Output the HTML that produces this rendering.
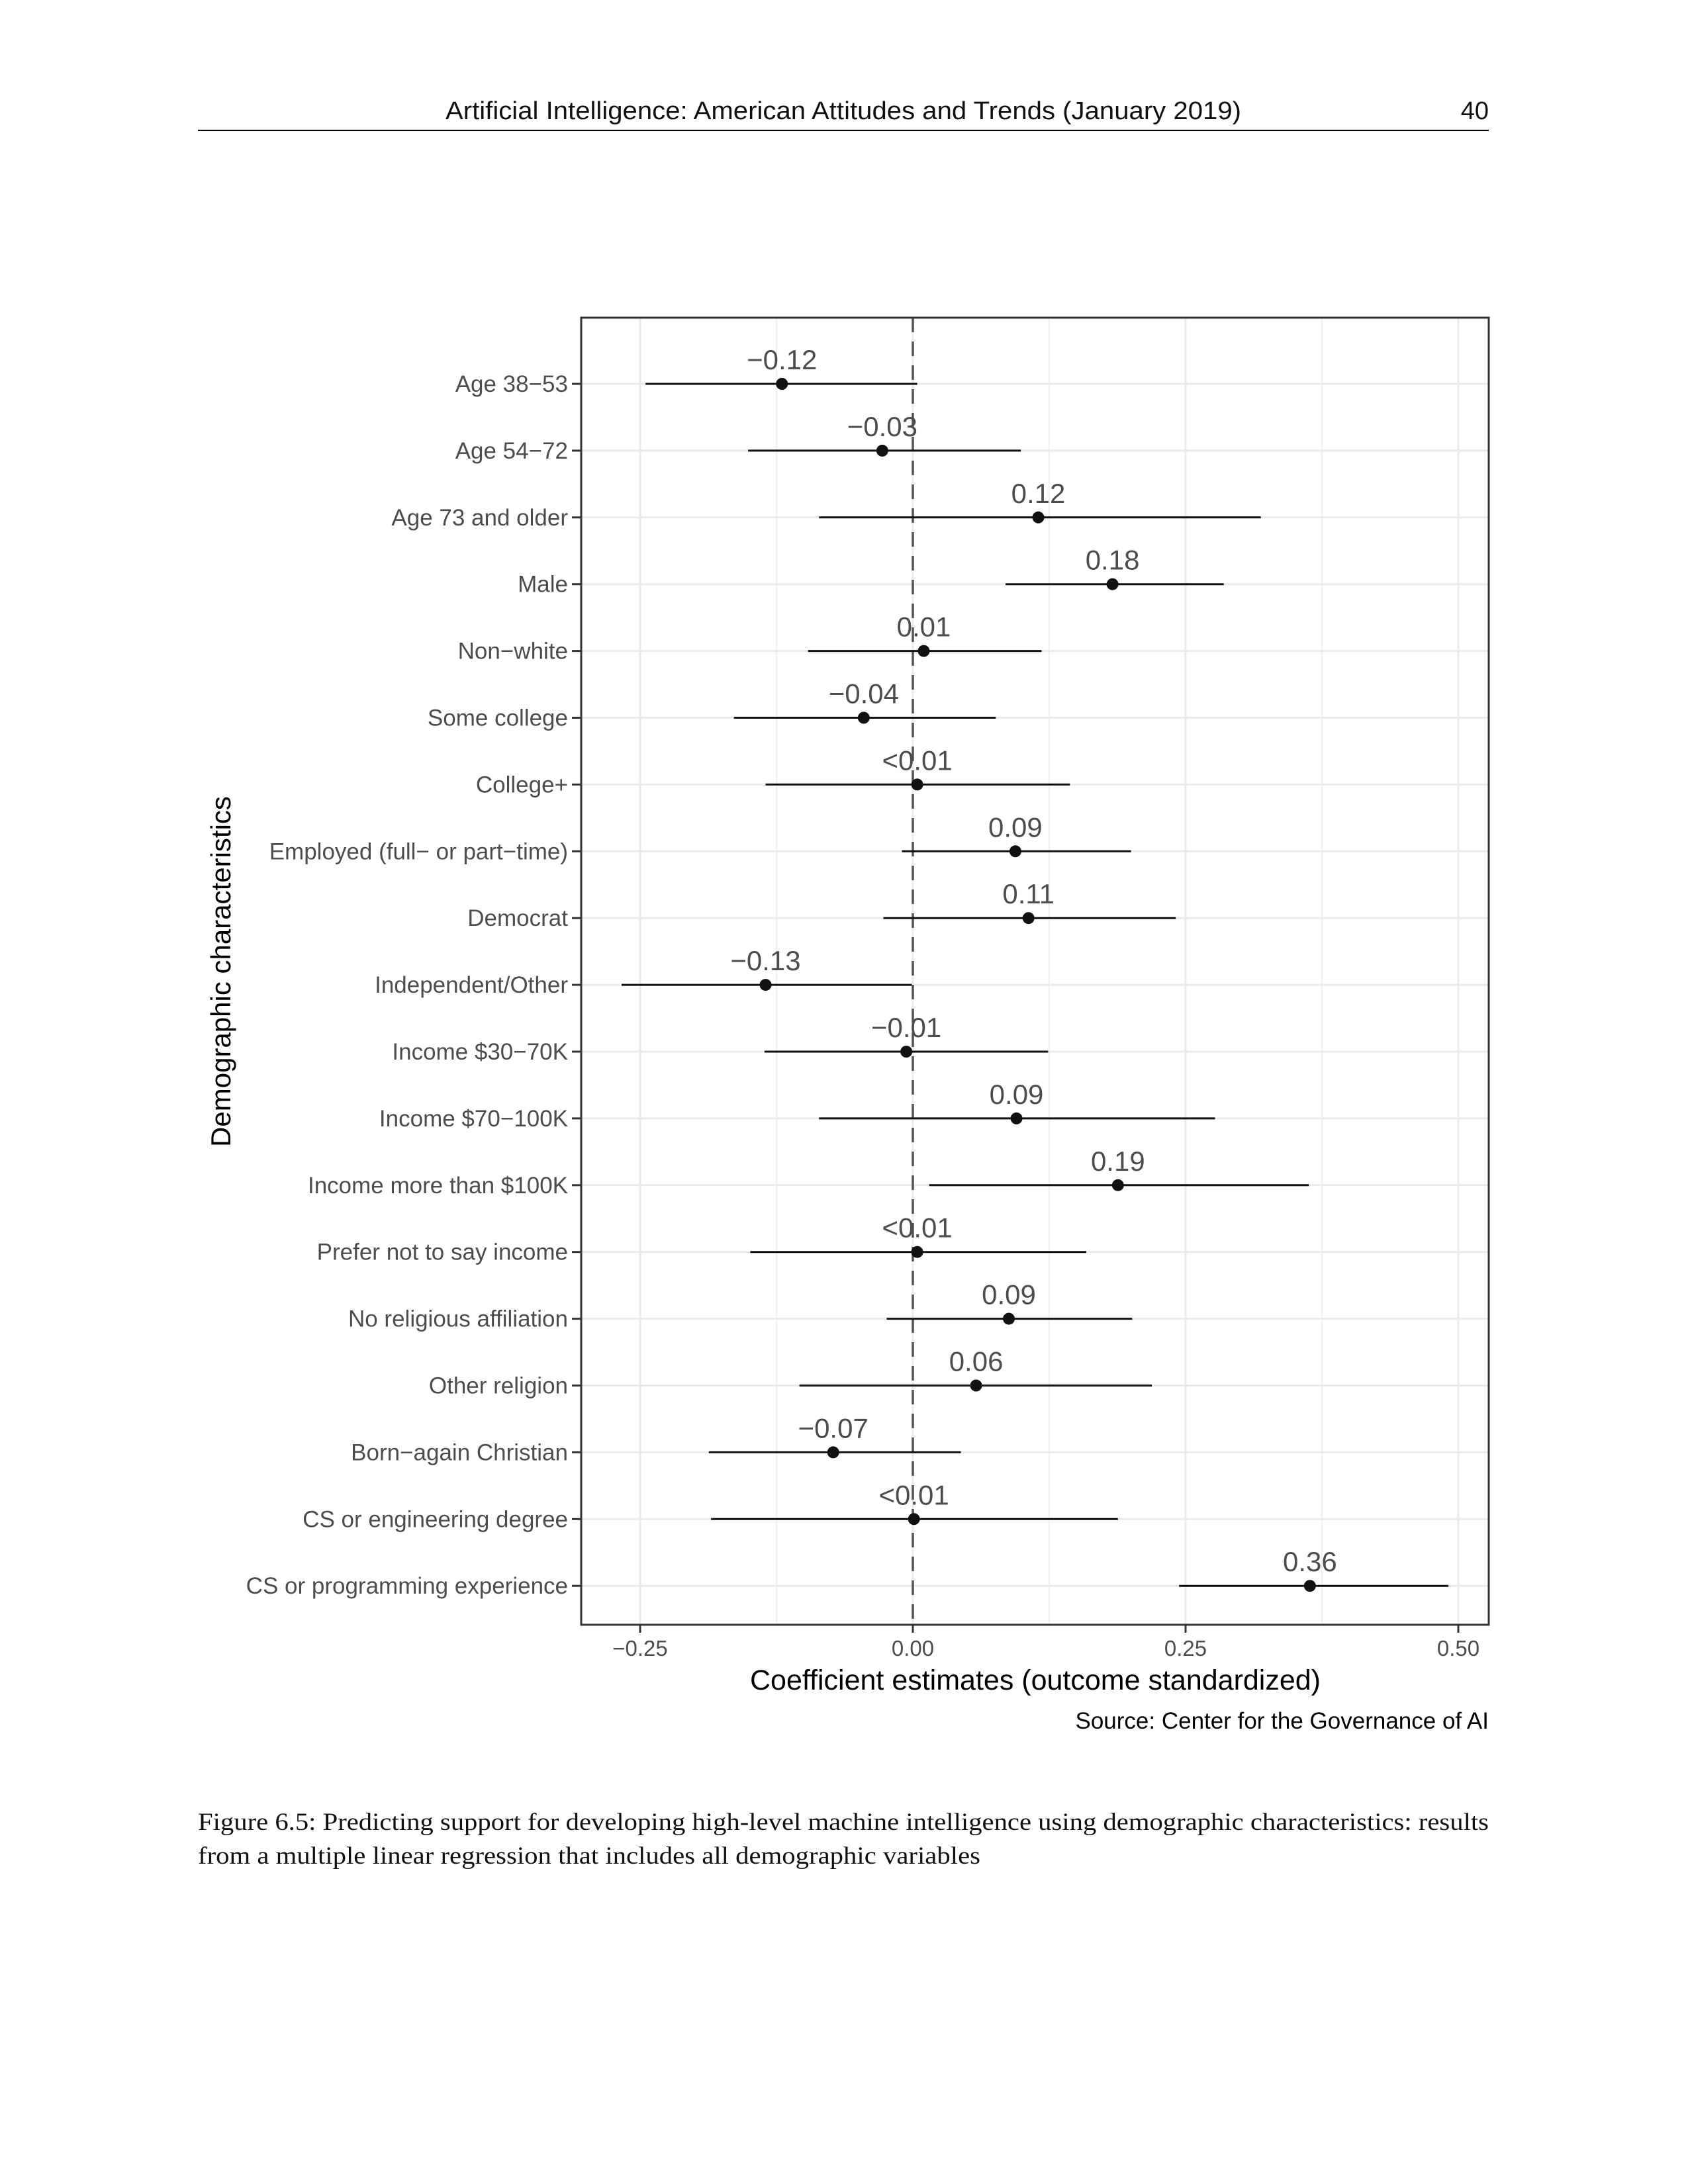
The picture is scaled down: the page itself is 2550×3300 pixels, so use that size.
<!DOCTYPE html>
<html><head><meta charset="utf-8"><style>body{margin:0;background:#fff}svg{display:block}</style></head><body>
<svg width="2550" height="3300" viewBox="0 0 2550 3300" xmlns="http://www.w3.org/2000/svg">
<rect width="2550" height="3300" fill="#fff"/>
<text x="1274" y="180" font-family="Liberation Sans, sans-serif" font-size="38" text-anchor="middle" fill="#111" textLength="1202" lengthAdjust="spacingAndGlyphs">Artificial Intelligence: American Attitudes and Trends (January 2019)</text>
<text x="2249" y="180" font-family="Liberation Sans, sans-serif" font-size="38" text-anchor="end" fill="#111">40</text>
<line x1="299" y1="197" x2="2249" y2="197" stroke="#000" stroke-width="2"/>
<g stroke="#ebebeb" stroke-width="1.5">
<line x1="1173" y1="480" x2="1173" y2="2455"/><line x1="1585" y1="480" x2="1585" y2="2455"/><line x1="1997" y1="480" x2="1997" y2="2455"/>
</g>
<g stroke="#ebebeb" stroke-width="3">
<line x1="967" y1="480" x2="967" y2="2455"/><line x1="1379" y1="480" x2="1379" y2="2455"/><line x1="1791" y1="480" x2="1791" y2="2455"/><line x1="2203" y1="480" x2="2203" y2="2455"/>
</g>
<g id="rows" font-family="Liberation Sans, sans-serif"></g>
<line x1="1379" y1="480" x2="1379" y2="2455" stroke="#555" stroke-width="3.5" stroke-dasharray="22,14"/>
<g id="data"></g>
<rect x="878" y="480" width="1371" height="1975" fill="none" stroke="#333" stroke-width="3"/>
<g font-family="Liberation Sans, sans-serif" font-size="33" fill="#4d4d4d" text-anchor="middle">
<line x1="967" y1="2455" x2="967" y2="2467" stroke="#333" stroke-width="3"/><text x="967" y="2502">−0.25</text>
<line x1="1379" y1="2455" x2="1379" y2="2467" stroke="#333" stroke-width="3"/><text x="1379" y="2502">0.00</text>
<line x1="1791" y1="2455" x2="1791" y2="2467" stroke="#333" stroke-width="3"/><text x="1791" y="2502">0.25</text>
<line x1="2203" y1="2455" x2="2203" y2="2467" stroke="#333" stroke-width="3"/><text x="2203" y="2502">0.50</text>
</g>
<text x="1564" y="2553" font-family="Liberation Sans, sans-serif" font-size="43" text-anchor="middle" fill="#000">Coefficient estimates (outcome standardized)</text>
<text x="2249" y="2612" font-family="Liberation Sans, sans-serif" font-size="35" text-anchor="end" fill="#000">Source: Center for the Governance of AI</text>
<text transform="translate(348,1468) rotate(-90)" font-family="Liberation Sans, sans-serif" font-size="42" text-anchor="middle" fill="#000">Demographic characteristics</text>
<text x="299" y="2765" font-family="Liberation Serif, serif" font-size="37" fill="#111" textLength="1950" lengthAdjust="spacingAndGlyphs">Figure 6.5: Predicting support for developing high-level machine intelligence using demographic characteristics: results</text>
<text x="299" y="2816" font-family="Liberation Serif, serif" font-size="37" fill="#111" textLength="1182" lengthAdjust="spacingAndGlyphs">from a multiple linear regression that includes all demographic variables</text>
<script>
var d=[["Age 38−53",-0.12,-0.245,0.004,"−0.12"],["Age 54−72",-0.028,-0.151,0.099,"−0.03"],["Age 73 and older",0.115,-0.086,0.319,"0.12"],["Male",0.183,0.085,0.285,"0.18"],["Non−white",0.010,-0.096,0.118,"0.01"],["Some college",-0.045,-0.164,0.076,"−0.04"],["College+",0.004,-0.135,0.144,"<0.01"],["Employed (full− or part−time)",0.094,-0.010,0.2,"0.09"],["Democrat",0.106,-0.027,0.241,"0.11"],["Independent/Other",-0.135,-0.267,-0.001,"−0.13"],["Income $30−70K",-0.006,-0.136,0.124,"−0.01"],["Income $70−100K",0.095,-0.086,0.277,"0.09"],["Income more than $100K",0.188,0.015,0.363,"0.19"],["Prefer not to say income",0.004,-0.149,0.159,"<0.01"],["No religious affiliation",0.088,-0.024,0.201,"0.09"],["Other religion",0.058,-0.104,0.219,"0.06"],["Born−again Christian",-0.073,-0.187,0.044,"−0.07"],["CS or engineering degree",0.001,-0.185,0.188,"<0.01"],["CS or programming experience",0.364,0.244,0.491,"0.36"]];
var ns="http://www.w3.org/2000/svg",R=document.getElementById("rows"),D=document.getElementById("data");
function X(v){return 1379+v*1648}
function el(p,t,a,txt){var e=document.createElementNS(ns,t);for(var k in a)e.setAttribute(k,a[k]);if(txt)e.textContent=txt;p.appendChild(e);return e}
d.forEach(function(r,i){var y=580+i*100.9;
el(R,"line",{x1:878,y1:y,x2:2249,y2:y,stroke:"#ebebeb","stroke-width":3});
el(R,"line",{x1:864,y1:y,x2:878,y2:y,stroke:"#333","stroke-width":3});
el(R,"text",{x:858,y:y+12,"font-size":35,"text-anchor":"end",fill:"#4d4d4d"},r[0]);
el(D,"line",{x1:X(r[2]),y1:y,x2:X(r[3]),y2:y,stroke:"#111","stroke-width":3});
el(D,"circle",{cx:X(r[1]),cy:y,r:9,fill:"#111"});
el(D,"text",{x:X(r[1]),y:y-22,"font-size":42,"text-anchor":"middle",fill:"#4d4d4d","font-family":"Liberation Sans, sans-serif"},r[4]);
});
</script>
</svg>
</body></html>
